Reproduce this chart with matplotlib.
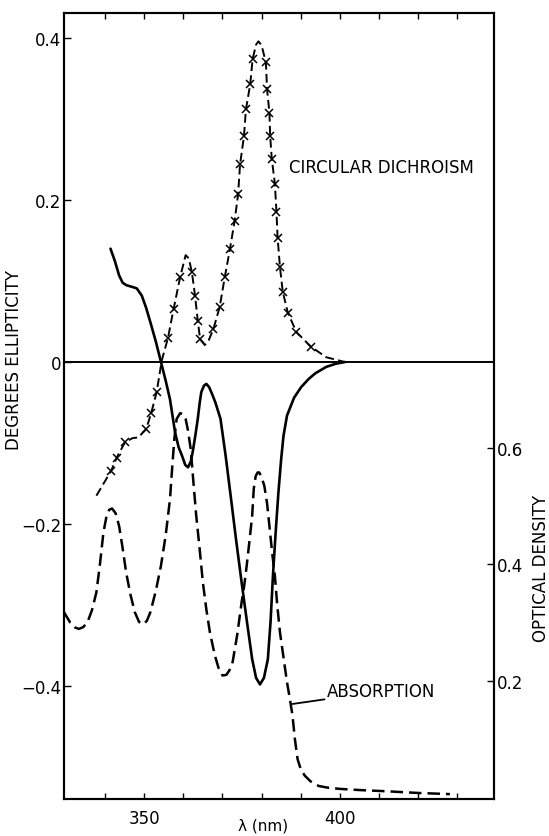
import matplotlib
matplotlib.use("Agg")
import matplotlib.pyplot as plt

plt.rcParams['font.family'] = ['DejaVu Sans']

# ---- data ----
cd_nm = [337.8, 341.6, 343.0, 345.1, 347.0, 348.5, 350.5, 351.8, 353.2, 354.5,
         356.1, 357.5, 359.2, 360.6, 361.4, 362.2, 363.0, 363.7, 364.3, 365.5,
         366.5, 367.7, 369.3, 370.6, 371.9, 373.1, 374.0, 374.5, 375.5, 376.0,
         377.1, 377.7, 378.6, 379.2, 380.0, 381.1, 381.4, 382.0, 382.2, 382.6,
         383.4, 383.8, 384.1, 384.7, 385.4, 386.7, 388.9, 392.6, 396.5, 401.3]
cd_val = [-0.165, -0.134, -0.118, -0.099, -0.094, -0.093, -0.083, -0.063, -0.037, 0.002,
          0.030, 0.065, 0.105, 0.132, 0.128, 0.111, 0.082, 0.051, 0.028, 0.021,
          0.027, 0.041, 0.068, 0.105, 0.139, 0.174, 0.207, 0.244, 0.279, 0.312,
          0.343, 0.374, 0.392, 0.396, 0.391, 0.370, 0.337, 0.308, 0.279, 0.251,
          0.220, 0.185, 0.153, 0.117, 0.087, 0.061, 0.037, 0.019, 0.006, 0.0]
cd_markers = [1, 2, 3, 6, 7, 8, 10, 11, 12, 15, 16, 17, 18, 21, 22, 23, 24, 25, 26,
              27, 28, 29, 30, 31, 35, 36, 37, 38, 39, 40, 41, 42, 43, 44, 45, 46, 47]

solid_nm = [341.4, 342.5, 343.6, 344.5, 345.4, 346.8, 348.1, 349.4, 350.5, 351.6,
            353.0, 354.3, 355.5, 356.6, 357.9, 358.8, 359.7, 360.5, 361.2, 361.9,
            362.4, 363.1, 363.7, 364.2, 364.6, 365.3, 365.9, 366.6, 367.4, 368.2,
            369.5, 370.8, 372.2, 373.5, 374.9, 376.3, 377.6, 378.6, 379.6, 380.6,
            381.6, 382.3, 382.9, 383.6, 384.3, 385.0, 385.6, 386.5, 388.3, 390.1,
            392.0, 393.7, 396.5, 399.0, 401.3]
solid_val = [0.140, 0.125, 0.107, 0.098, 0.095, 0.093, 0.091, 0.082, 0.067, 0.049,
             0.025, 0.0, -0.023, -0.046, -0.087, -0.105, -0.116, -0.127, -0.130, -0.123,
             -0.111, -0.090, -0.070, -0.050, -0.037, -0.029, -0.027, -0.031, -0.040, -0.050,
             -0.070, -0.115, -0.169, -0.220, -0.272, -0.322, -0.367, -0.390, -0.398, -0.390,
             -0.367, -0.320, -0.264, -0.210, -0.161, -0.120, -0.091, -0.066, -0.044, -0.031,
             -0.021, -0.014, -0.006, -0.002, 0.0]

abs_nm = [329.5, 330.3, 331.1, 332.2, 333.3, 334.4, 335.5, 336.7, 337.8, 338.7,
          339.6, 340.5, 341.1, 341.8, 342.7, 343.6, 344.5, 345.4, 346.5, 347.6,
          348.7, 349.8, 350.7, 351.6, 353.0, 354.3, 355.5, 356.6, 357.2, 357.7,
          358.3, 359.2, 360.0, 360.6, 361.2, 361.9, 362.6, 363.3, 364.2, 365.0,
          365.9, 366.8, 368.0, 369.0, 370.0, 371.0, 371.8, 372.6, 373.8, 374.9,
          375.5, 376.2, 376.9, 377.6, 378.0, 378.5, 379.0, 379.4, 380.0, 380.7,
          381.4, 382.0, 382.7, 383.4, 384.0, 384.7, 385.6, 386.5, 387.2, 387.9,
          388.5, 389.2, 390.0, 391.0, 392.5, 394.6, 397.0, 400.0, 405.0, 411.6,
          420.0, 428.1]
abs_od = [0.318, 0.309, 0.300, 0.292, 0.289, 0.292, 0.300, 0.322, 0.352, 0.400,
          0.455, 0.487, 0.494, 0.496, 0.488, 0.466, 0.428, 0.386, 0.348, 0.318,
          0.301, 0.297, 0.303, 0.318, 0.355, 0.398, 0.450, 0.512, 0.570, 0.615,
          0.650, 0.660, 0.658, 0.650, 0.630, 0.598, 0.540, 0.484, 0.425, 0.369,
          0.322, 0.283, 0.245, 0.222, 0.209, 0.210, 0.218, 0.232, 0.280, 0.335,
          0.360, 0.398, 0.440, 0.484, 0.530, 0.552, 0.558, 0.558, 0.550, 0.535,
          0.505, 0.466, 0.420, 0.380, 0.330, 0.283, 0.240, 0.197, 0.170, 0.140,
          0.100, 0.065, 0.048, 0.037, 0.027, 0.019, 0.016, 0.014, 0.012, 0.010,
          0.007, 0.005]

left_ticks = [0.4, 0.2, 0.0, -0.2, -0.4]
left_labels = ['0.4', '0.2', '0', '\u22120.2', '\u22120.4']
right_ticks = [0.6, 0.4, 0.2]
right_labels = ['0.6', '0.4', '0.2']
x_ticks = [340, 350, 360, 370, 380, 390, 400, 410, 420, 430]
x_labels = ['', '350', '', '', '', '', '400', '', '', '']

FS = 12

# ---- figure ----
fig = plt.figure(figsize=(5.49, 8.37), dpi=100)
ax = fig.add_axes([0.1157, 0.0442, 0.7850, 0.9391])
ax.set_xlim(329.4, 439.5)
ax.set_ylim(-0.5395, 0.431)

ax.axhline(0, color='black', lw=1.4, zorder=2)

ax.plot(cd_nm, cd_val, color='black', lw=1.4, dashes=(4.5, 2.2),
        marker='x', markersize=5.5, markeredgewidth=1.1, markevery=cd_markers, zorder=3)
ax.plot(solid_nm, solid_val, color='black', lw=1.9, solid_capstyle='round', zorder=3)

ax2 = ax.twinx()
ax2.set_ylim(-0.0034, 1.348)
ax2.plot(abs_nm, abs_od, color='black', lw=1.8, dashes=(5.0, 2.4), zorder=3)

for a in (ax, ax2):
    for s in a.spines.values():
        s.set_linewidth(1.5)

ax.set_xticks(x_ticks)
ax.set_xticklabels(x_labels)
ax.set_yticks(left_ticks)
ax.set_yticklabels(left_labels)
ax.tick_params(axis='x', direction='in', length=4, width=1, top=True,
               labelsize=FS, pad=7)
ax.tick_params(axis='y', direction='in', length=5, width=1, labelsize=FS, pad=1.5)
ax2.set_yticks(right_ticks)
ax2.set_yticklabels(right_labels)
ax2.tick_params(axis='y', direction='in', length=5, width=1, labelsize=FS, pad=2)

ax.set_xlabel('λ (nm)', fontsize=11)
ax.xaxis.set_label_coords(0.462, -0.0235)
ax.set_ylabel('DEGREES ELLIPTICITY', fontsize=FS)
ax.yaxis.set_label_coords(-0.095, 0.56)
ax2.set_ylabel('OPTICAL DENSITY', fontsize=FS)
ax2.yaxis.set_label_coords(1.087, 0.295)

ax.text(387.0, 0.241, 'CIRCULAR DICHROISM', fontsize=FS, ha='left', va='center')
ax2.annotate('ABSORPTION', xy=(387.9, 0.160), xytext=(396.8, 0.182),
             fontsize=FS, ha='left', va='center',
             arrowprops=dict(arrowstyle='-', lw=1.3, color='black',
                             shrinkA=0, shrinkB=0))

fig.savefig('out.png', dpi=100)
